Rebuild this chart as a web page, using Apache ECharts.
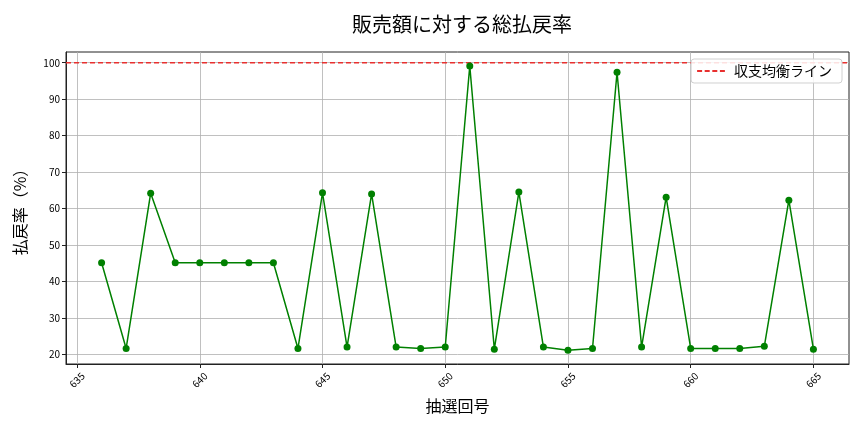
<!DOCTYPE html>
<html><head><meta charset="utf-8">
<script src="https://cdn.jsdelivr.net/npm/echarts@6/dist/echarts.min.js"></script>
<style>html,body{margin:0;padding:0;background:#fff}#c{width:864px;height:432px}</style>
</head><body><div id="c"></div>
<script>
const draws = [636,637,638,639,640,641,642,643,644,645,646,647,648,649,650,651,652,653,654,655,656,657,658,659,660,661,662,663,664,665];
const payoutRate = [45.1,21.6,64.2,45.1,45.1,45.1,45.1,45.1,21.6,64.3,22.0,64.0,22.0,21.6,22.0,99.1,21.4,64.5,22.0,21.1,21.6,97.4,22.0,63.1,21.6,21.6,21.6,22.2,62.3,21.4];
const breakEven = 100;
const xTicks = [635,640,645,650,655,660,665];
const yTicks = [20,30,40,50,60,70,80,90,100];

const xMin = 634.55, xMax = 666.45, yMin = 17.34, yMax = 102.94;
const FONT = '"Noto Sans CJK JP", "Noto Sans", sans-serif';
const chart = echarts.init(document.getElementById('c'), null, {renderer:'canvas'});
chart.setOption({
  animation:false,
  backgroundColor:'#fff',
  title:{text:'販売額に対する総払戻率', left:457, top:9, textAlign:'center',
    textStyle:{fontFamily:FONT, fontSize:20, fontWeight:'normal', color:'#000'}},
  legend:{data:[{name:'収支均衡ライン', icon:'path://M0,0h5v2h-5z M7.6,0h5v2h-5z M15.2,0h5v2h-5z M22.8,0h5v2h-5z'}],
    right:22, top:59, orient:'horizontal',
    itemWidth:28, itemHeight:2, itemGap:8,
    padding:[5,10,5,6], borderColor:'#d0d0d0', borderWidth:1, borderRadius:3,
    backgroundColor:'rgba(255,255,255,0.85)',
    textStyle:{fontFamily:FONT, fontSize:14, color:'#000', padding:[0,0,0,4]}},
  grid:{left:66, right:15, top:52, bottom:68, show:true, borderColor:'#222', borderWidth:1, containLabel:false},
  xAxis:{type:'value', min:xMin, max:xMax,
    name:'抽選回号', nameLocation:'middle', nameGap:34,
    nameTextStyle:{fontFamily:FONT, fontSize:16, color:'#000'},
    axisLine:{show:true, lineStyle:{color:'#222'}},
    axisTick:{show:true, length:4, lineStyle:{color:'#222'}, customValues:xTicks},
    splitLine:{show:true, lineStyle:{color:'#b0b0b0', width:0.8}},
    axisLabel:{rotate:45, align:'center', verticalAlign:'middle', fontFamily:FONT, fontSize:10, color:'#000', margin:16, customValues:xTicks}
  },
  yAxis:{type:'value', min:yMin, max:yMax,
    name:'払戻率（%）', nameLocation:'middle', nameGap:38, nameRotate:90,
    nameTextStyle:{fontFamily:FONT, fontSize:16, color:'#000'},
    axisLine:{show:true, lineStyle:{color:'#222'}},
    axisTick:{show:true, length:4, lineStyle:{color:'#222'}, customValues:yTicks},
    splitLine:{show:true, lineStyle:{color:'#b0b0b0', width:0.8}},
    axisLabel:{fontFamily:FONT, fontSize:10, color:'#000', margin:6, customValues:yTicks}
  },
  series:[
    {name:'払戻率', type:'line', data:draws.map((d,i)=>[d,payoutRate[i]]),
      symbol:'circle', symbolSize:7, itemStyle:{color:'#008000'},
      lineStyle:{color:'#008000', width:1.5}, z:3},
    {name:'収支均衡ライン', type:'line', data:[[xMin,breakEven],[xMax,breakEven]],
      symbol:'none', itemStyle:{color:'#e8302f'},
      lineStyle:{color:'#e8302f', width:1.5, type:[5,3]}, z:2}
  ]
});
</script></body></html>
